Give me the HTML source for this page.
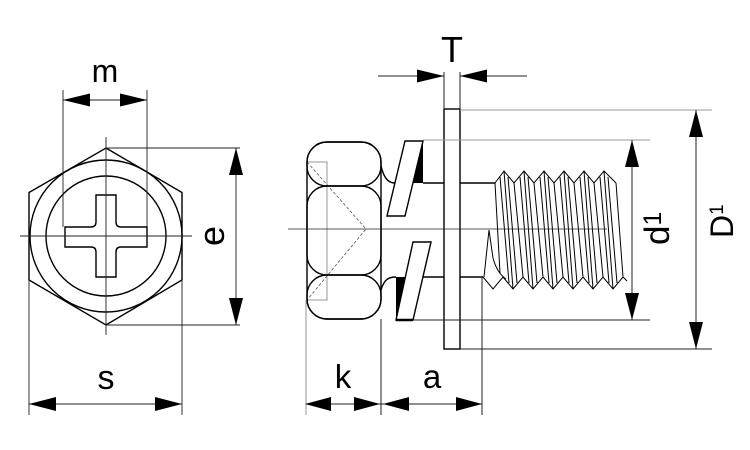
<!DOCTYPE html>
<html><head><meta charset="utf-8"><style>
html,body{margin:0;padding:0;background:#fff;}
svg{display:block;}
text{font-family:"Liberation Sans",Arial,sans-serif;fill:#000;}
</style></head><body>
<svg width="750" height="450" viewBox="0 0 750 450" xmlns="http://www.w3.org/2000/svg">
<rect width="750" height="450" fill="#fff"/>

<!-- ===== LEFT VIEW ===== -->
<g fill="none" stroke="#000" stroke-width="1.4">
  <polygon points="106,148 182,192.5 182,280 106,325 29,280 29,192.5"/>
  <circle cx="106" cy="236" r="76"/>
  <circle cx="106" cy="236" r="60"/>
  <path d="M96,195 H116 V222 Q116,227 121,227 H147 V247 H121 Q116,247 116,252 V277 H96 V252 Q96,247 91,247 H65 V227 H91 Q96,227 96,222 Z"/>
</g>
<g fill="none" stroke="#222" stroke-width="0.9">
  <path d="M106,137 V335 M20,236 H192"/>
  <path d="M63,90 V227 M147,90 V227 M63,100 H147"/>
  <path d="M106,148 H240 M106,325 H240 M236,148 V325"/>
  <path d="M29,280 V415 M182,280 V415 M29,404 H182"/>
</g>
<g fill="#000">
  <polygon points="63,100 90,93.5 90,106.5"/>
  <polygon points="147,100 120,93.5 120,106.5"/>
  <polygon points="236,148 229,175 243,175"/>
  <polygon points="236,325 229,298 243,298"/>
  <polygon points="29,404 56,397 56,411"/>
  <polygon points="182,404 155,397 155,411"/>
</g>
<text x="105" y="82" font-size="32" text-anchor="middle">m</text>
<text x="106" y="389" font-size="34" text-anchor="middle">s</text>
<text transform="translate(224,236) rotate(-90)" x="0" y="0" font-size="36" text-anchor="middle">e</text>

<!-- ===== RIGHT VIEW ===== -->
<rect x="307" y="162" width="20" height="138" fill="none" stroke="#999" stroke-width="1"/>
<path d="M307,162 L366,229 L307,300" fill="none" stroke="#555" stroke-width="0.8" stroke-dasharray="3,2"/>
<g fill="none" stroke="#000" stroke-width="1.4">
  <rect x="307" y="142" width="74" height="177" rx="20" ry="20"/>
  <rect x="307" y="142" width="74" height="44" rx="20" ry="20"/>
  <rect x="307" y="186" width="74" height="89" rx="20" ry="20"/>
  <rect x="307" y="275" width="74" height="44" rx="20" ry="20"/>
  <path d="M381,166 C384,178 388,183 395,183"/>
  <path d="M381,290 C384,280 388,277 396,277"/>
  <polygon points="405,141 423,141 405,216 387,216" fill="#fff"/>
  <polygon points="413,242 431,242 413,320 396,320" fill="#fff"/>
  <rect x="444" y="109" width="16" height="240" fill="#fff"/>
  <path d="M423,183 H444 M460,183 H495 M423,277 H444 M460,277 H483"/>
</g>
<g fill="#000">
  <polygon points="423,141 423,183 413,183"/>
  <polygon points="396,277 405.5,277 396,320"/>
</g>
<path d="M396,320 H413" stroke="#000" stroke-width="2.5"/>

<!-- thread -->
<g fill="none" stroke="#000" stroke-width="1">
  <path d="M495,183 L504,171 L514,183 L524,171 L534,183 L544,171 L554,183 L564,171 L574,183 L584,171 L594,183 L604,171 L616,183"/>
  <path d="M483,277 L493,289 L503,277 L513,289 L523,277 L533,289 L543,277 L553,289 L563,277 L573,289 L583,277 L593,289 L603,277 L613,289 L623,277 L627,281"/>
  <path d="M504,171 L513,289 M524,171 L533,289 M544,171 L553,289 M564,171 L573,289 M584,171 L593,289 M604,171 L613,289"/>
  <path d="M514,183 L523,277 M534,183 L543,277 M554,183 L563,277 M574,183 L583,277 M594,183 L603,277 M616,183 L623,277"/>
  <path d="M500,177 L509,283 M508,177 L517,283 M520,177 L529,283 M528,177 L537,283 M540,177 L549,283 M548,177 L557,283 M560,177 L569,283 M568,177 L577,283 M580,177 L589,283 M588,177 L597,283 M600,177 L609,283 M608,177 L617,283"/>
  <path d="M495,183 L500,273"/>
  <path d="M484,277 L489,230 L493,258 Q497,273 506,279"/>
</g>

<path d="M288,229 H607" stroke="#222" stroke-width="0.8" fill="none"/>

<g fill="none" stroke-width="1">
  <path d="M460,110 H712" stroke="#999"/>
  <path d="M423,140 H650" stroke="#999"/>
  <path d="M413,320 H650" stroke="#222"/>
  <path d="M460,349 H712" stroke="#222"/>
  <path d="M632,140 V320 M696,110 V349" stroke="#222"/>
  <path d="M444,72 V109 M460,72 V109 M378,76 H444 M460,76 H527" stroke="#222"/>
  <path d="M306,300 V415" stroke="#999"/>
  <path d="M381,319 V415 M482,277 V415 M306,404 H482" stroke="#222"/>
</g>
<g fill="#000">
  <polygon points="444,76 417,69.5 417,82.5"/>
  <polygon points="460,76 487,69.5 487,82.5"/>
  <polygon points="632,140 625,167 639,167"/>
  <polygon points="632,320 625,293 639,293"/>
  <polygon points="696,110 689,137 703,137"/>
  <polygon points="696,349 689,322 703,322"/>
  <polygon points="305,404 331,397 331,411"/>
  <polygon points="380,404 354,397 354,411"/>
  <polygon points="383,404 409,397 409,411"/>
  <polygon points="482,404 456,397 456,411"/>
</g>

<text x="452" y="62" font-size="36" text-anchor="middle">T</text>
<text x="343" y="388" font-size="33" text-anchor="middle">k</text>
<text x="432" y="388" font-size="33" text-anchor="middle">a</text>
<text transform="translate(669,245) rotate(-90)" x="0" y="0" font-size="35">d<tspan font-size="25" dy="-8">1</tspan></text>
<text transform="translate(733,238) rotate(-90)" x="0" y="0" font-size="32">D<tspan font-size="19" dy="-10">1</tspan></text>
</svg>
</body></html>
